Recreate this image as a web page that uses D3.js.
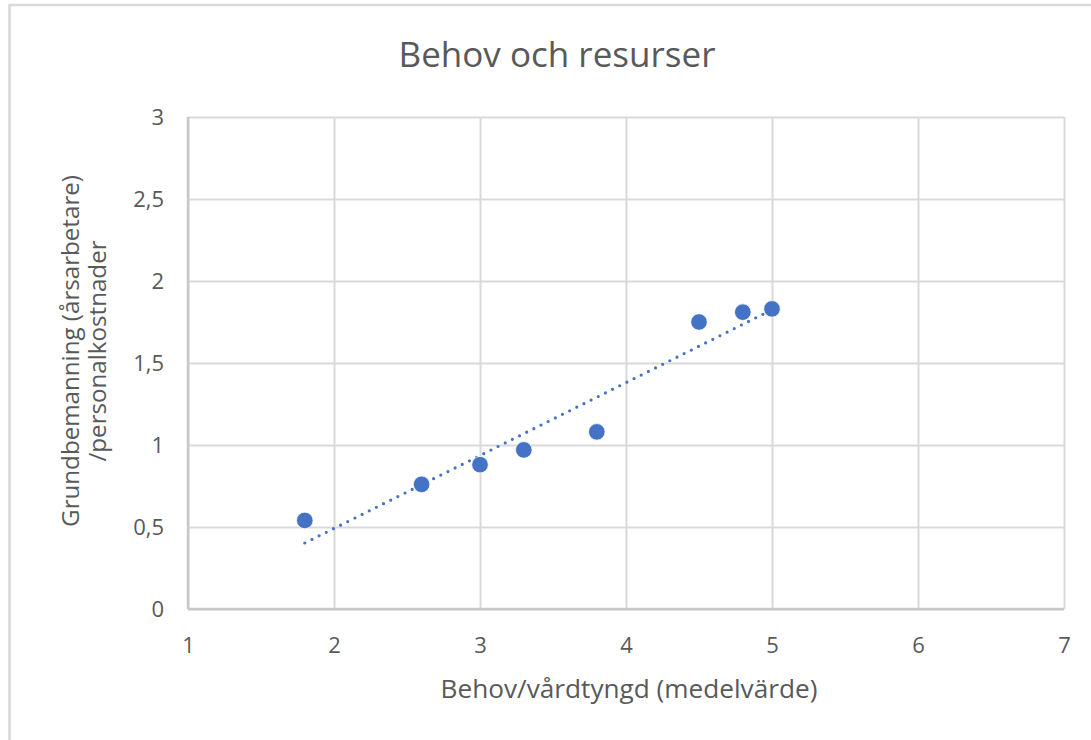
<!DOCTYPE html>
<html><head><meta charset="utf-8">
<script src="https://cdn.jsdelivr.net/npm/d3@7"></script>
<style>body{margin:0;background:#fff;} svg{display:block;font-family:"Open Sans",sans-serif;}</style>
</head><body>
<svg id="c" width="1091" height="740"></svg>
<script>
const title = "Behov och resurser";
const xTitle = "Behov/vårdtyngd (medelvärde)";
const yTitleLines = ["Grundbemanning (årsarbetare)", "/personalkostnader"];
const xValues = [1.8, 2.6, 3.0, 3.3, 3.8, 4.5, 4.8, 5.0];
const yValues = [0.54, 0.76, 0.88, 0.97, 1.08, 1.75, 1.81, 1.83];
const xTicks = [1, 2, 3, 4, 5, 6, 7];
const yTicks = [0, 0.5, 1, 1.5, 2, 2.5, 3];

const svg = d3.select("#c");
const color = "#4472C4", textCol = "#595959";
const L = 188, R = 1064, T = 117, B = 609;
const x = d3.scaleLinear().domain([1, 7]).range([L, R]);
const y = d3.scaleLinear().domain([0, 3]).range([B, T]);
const fmt = v => String(v).replace(".", ",");

// frame
svg.append("rect").attr("x", 9.5).attr("y", 5).attr("width", 1100).attr("height", 760)
  .attr("fill", "none").attr("stroke", "#d9d9d9").attr("stroke-width", 2.5);

// gridlines
const g = svg.append("g");
g.append("g").attr("transform", `translate(0,${B})`)
  .call(d3.axisBottom(x).tickValues(xTicks).tickSize(-(B - T)).tickFormat(""))
  .call(s => s.select(".domain").remove())
  .call(s => s.selectAll("line").attr("stroke", "#d9d9d9").attr("stroke-width", 2));
g.append("g").attr("transform", `translate(${L},0)`)
  .call(d3.axisLeft(y).tickValues(yTicks).tickSize(-(R - L)).tickFormat(""))
  .call(s => s.select(".domain").remove())
  .call(s => s.selectAll("line").attr("stroke", "#d9d9d9").attr("stroke-width", 2));
// axis lines
svg.append("line").attr("x1", L).attr("x2", R).attr("y1", B).attr("y2", B).attr("stroke", "#c8c8c8").attr("stroke-width", 2.5);
svg.append("line").attr("x1", L).attr("x2", L).attr("y1", T).attr("y2", B).attr("stroke", "#c8c8c8").attr("stroke-width", 2.5);

// tick labels
const xl = svg.append("g").attr("transform", `translate(0,${B})`)
  .call(d3.axisBottom(x).tickValues(xTicks).tickSize(0).tickPadding(28).tickFormat(fmt));
xl.select(".domain").remove();
xl.selectAll("text").attr("fill", textCol).attr("font-size", 22).attr("font-family", "Open Sans");
const yl = svg.append("g").attr("transform", `translate(${L},0)`)
  .call(d3.axisLeft(y).tickValues(yTicks).tickSize(0).tickPadding(24).tickFormat(fmt));
yl.select(".domain").remove();
yl.selectAll("text").attr("fill", textCol).attr("font-size", 22).attr("font-family", "Open Sans");

// trendline (least squares)
const mx = d3.mean(xValues), my = d3.mean(yValues);
const slope = d3.sum(xValues, (v, i) => (v - mx) * (yValues[i] - my)) / d3.sum(xValues, v => (v - mx) ** 2);
const icpt = my - slope * mx;
const x0 = d3.min(xValues), x1 = d3.max(xValues);
svg.append("line").attr("x1", x(x0)).attr("y1", y(icpt + slope * x0))
  .attr("x2", x(x1)).attr("y2", y(icpt + slope * x1))
  .attr("stroke", color).attr("stroke-width", 3.2).attr("stroke-linecap", "round")
  .attr("stroke-dasharray", "0 8");

// points
svg.append("g").selectAll("circle").data(xValues).join("circle")
  .attr("cx", d => x(d)).attr("cy", (d, i) => y(yValues[i])).attr("r", 8.3)
  .attr("fill", color).attr("stroke", "#fff").attr("stroke-width", 0.8);

function fitText(sel, w) {
  const n = sel.node(); const fs = +sel.attr("font-size");
  sel.attr("font-size", fs * w / n.getComputedTextLength());
}
// titles
const t = svg.append("text").attr("x", 557).attr("y", 67).attr("text-anchor", "middle")
  .attr("font-size", 32).attr("fill", textCol).text(title);
fitText(t, 317);
const xt = svg.append("text").attr("x", 629).attr("y", 698).attr("text-anchor", "middle")
  .attr("font-size", 22).attr("fill", textCol).text(xTitle);
fitText(xt, 377);
const yt = svg.append("g").attr("transform", "translate(0,351) rotate(-90)");
const yt1 = yt.append("text").attr("x", 0).attr("y", 79).attr("text-anchor", "middle")
  .attr("font-size", 22).attr("fill", textCol).text(yTitleLines[0]);
fitText(yt1, 352);
const yt2 = yt.append("text").attr("x", 0).attr("y", 106).attr("text-anchor", "middle")
  .attr("font-size", +yt1.attr("font-size")).attr("fill", textCol).text(yTitleLines[1]);
</script>
</body></html>
